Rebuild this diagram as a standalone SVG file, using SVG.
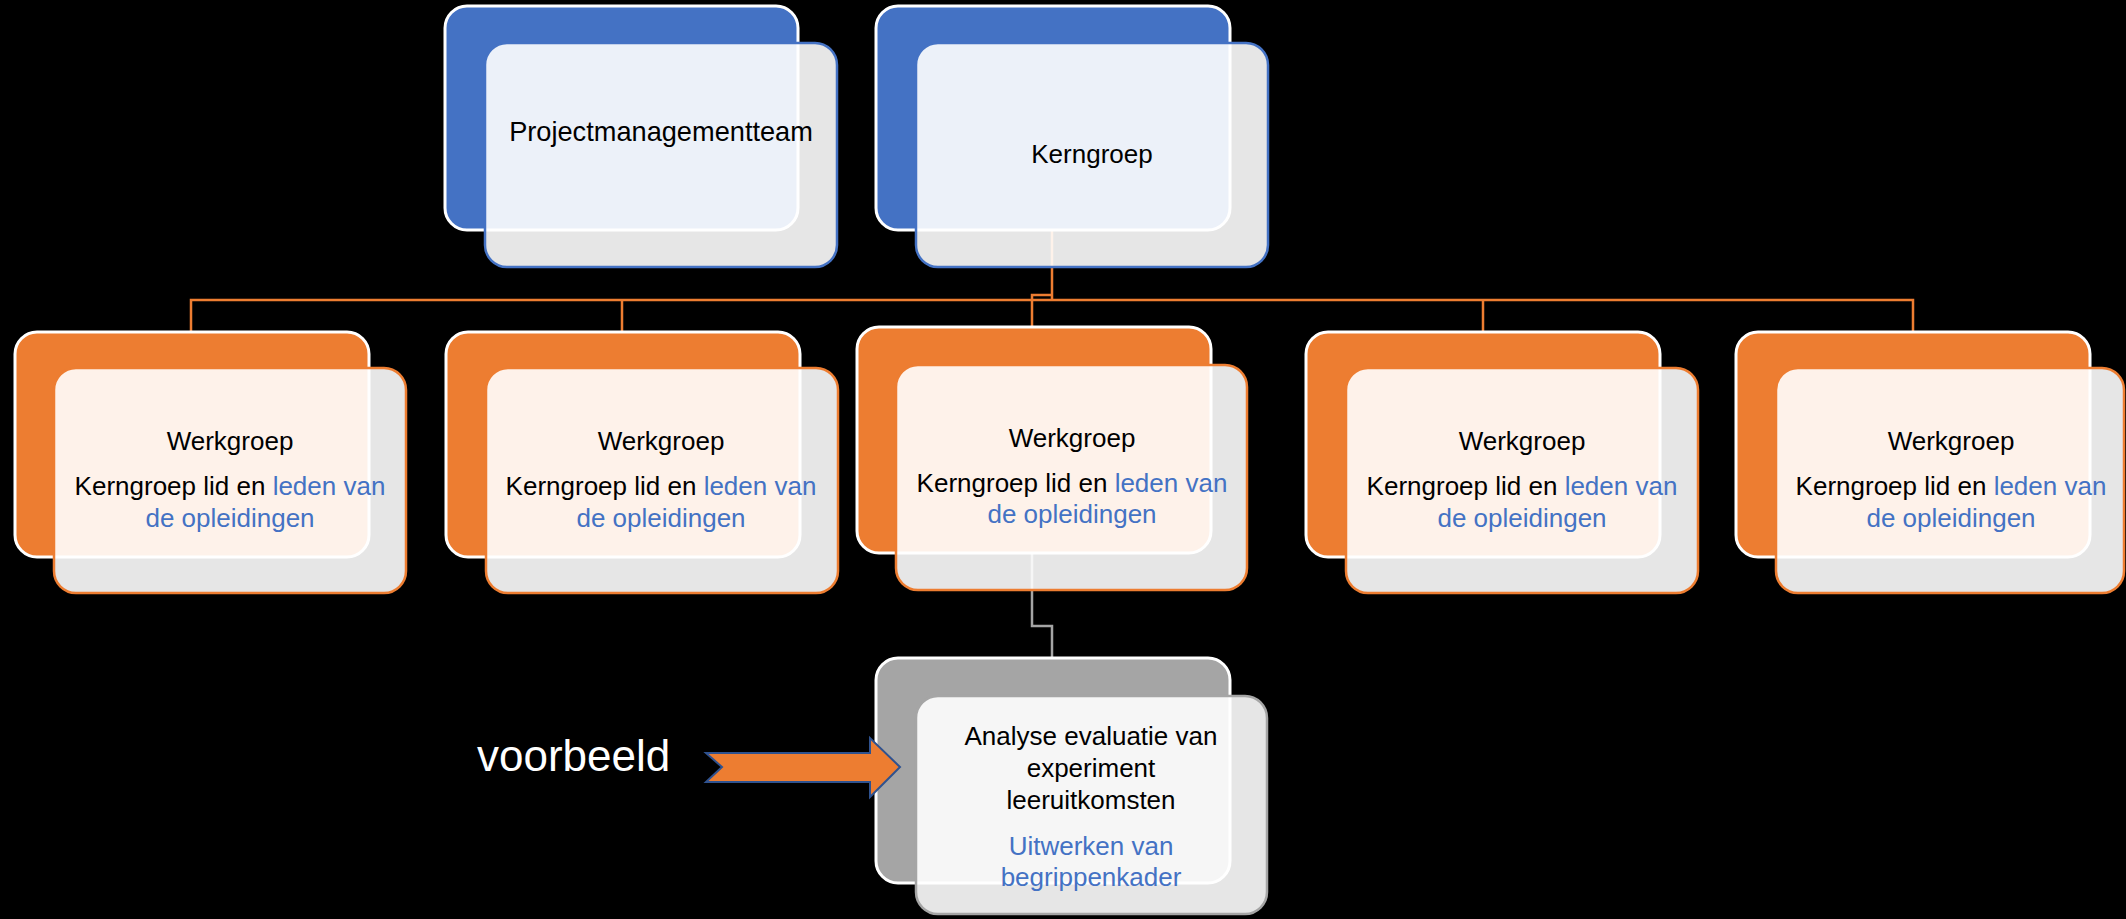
<svg xmlns="http://www.w3.org/2000/svg" width="2126" height="919" viewBox="0 0 2126 919">
<style>
.bg{fill:#000}
.back{stroke:#fff;stroke-width:3}
.bb{fill:#4472C4}
.bo{fill:#ED7D31}
.bg2{fill:#A5A5A5}
.front{fill:#fff;fill-opacity:0.9;stroke-width:2.5}
.fb{stroke:#4472C4}
.fo{stroke:#ED7D31}
.fg{stroke:#A5A5A5}
.t{font-family:"Liberation Sans",Arial,sans-serif;font-size:26px;fill:#000;text-anchor:middle}
.blue{fill:#4472C4}
.co{fill:none;stroke:#ED7D31;stroke-width:2.5}
.cg{fill:none;stroke:#A5A5A5;stroke-width:2.5}
</style>
<rect class="bg" x="0" y="0" width="2126" height="919"/>
<g id="connectors">
<path class="co" d="M1052,230 V300"/>
<path class="co" d="M191,331 V300 H1913 V331"/>
<path class="co" d="M622,300 V331"/>
<path class="co" d="M1483,300 V331"/>
<path class="co" d="M1052,295 H1032 V327"/>
<path class="cg" d="M1032,553 V626 H1052 V658"/>
</g>
<g id="pm">
<rect class="back bb" x="445" y="6" width="353" height="224" rx="22"/>
<rect class="front fb" x="485" y="43" width="352" height="224" rx="22"/>
<text class="t" x="661" y="141" style="font-size:27.2px">Projectmanagementteam</text>
</g>
<g id="kerngroep">
<rect class="back bb" x="876" y="6" width="354" height="224" rx="22"/>
<rect class="front fb" x="916" y="43" width="352" height="224" rx="22"/>
<text class="t" x="1092" y="163">Kerngroep</text>
</g>
<g id="werkgroep1">
<rect class="back bo" x="15" y="332" width="354" height="225" rx="22"/>
<rect class="front fo" x="54" y="368" width="352" height="225" rx="22"/>
<text class="t" x="230" y="450">Werkgroep</text>
<text class="t" x="230" y="495">Kerngroep lid en <tspan class="blue">leden van</tspan></text>
<text class="t blue" x="230" y="527">de opleidingen</text>
</g>
<g id="werkgroep2">
<rect class="back bo" x="446" y="332" width="354" height="225" rx="22"/>
<rect class="front fo" x="486" y="368" width="352" height="225" rx="22"/>
<text class="t" x="661" y="450">Werkgroep</text>
<text class="t" x="661" y="495">Kerngroep lid en <tspan class="blue">leden van</tspan></text>
<text class="t blue" x="661" y="527">de opleidingen</text>
</g>
<g id="werkgroep3">
<rect class="back bo" x="857" y="327" width="354" height="226" rx="22"/>
<rect class="front fo" x="896" y="365" width="351" height="225" rx="22"/>
<text class="t" x="1072" y="447">Werkgroep</text>
<text class="t" x="1072" y="492">Kerngroep lid en <tspan class="blue">leden van</tspan></text>
<text class="t blue" x="1072" y="523">de opleidingen</text>
</g>
<g id="werkgroep4">
<rect class="back bo" x="1306" y="332" width="354" height="225" rx="22"/>
<rect class="front fo" x="1346" y="368" width="352" height="225" rx="22"/>
<text class="t" x="1522" y="450">Werkgroep</text>
<text class="t" x="1522" y="495">Kerngroep lid en <tspan class="blue">leden van</tspan></text>
<text class="t blue" x="1522" y="527">de opleidingen</text>
</g>
<g id="werkgroep5">
<rect class="back bo" x="1736" y="332" width="354" height="225" rx="22"/>
<rect class="front fo" x="1776" y="368" width="348" height="225" rx="22"/>
<text class="t" x="1951" y="450">Werkgroep</text>
<text class="t" x="1951" y="495">Kerngroep lid en <tspan class="blue">leden van</tspan></text>
<text class="t blue" x="1951" y="527">de opleidingen</text>
</g>
<g id="analyse">
<rect class="back bg2" x="876" y="658" width="354" height="225" rx="22"/>
<rect class="front fg" x="916" y="696" width="351" height="218" rx="22"/>
<text class="t" x="1091" y="745">Analyse evaluatie van</text>
<text class="t" x="1091" y="777">experiment</text>
<text class="t" x="1091" y="809">leeruitkomsten</text>
<text class="t blue" x="1091" y="855">Uitwerken van</text>
<text class="t blue" x="1091" y="886">begrippenkader</text>
</g>
<g id="voorbeeld">
<text x="477" y="771" style="font-family:'Liberation Sans',Arial,sans-serif;font-size:44px;fill:#fff">voorbeeld</text>
<polygon points="706,753 870,753 870,738 900,767 870,797 870,782 706,782 722,767" fill="#ED7D31" stroke="#2F528F" stroke-width="2"/>
</g>
</svg>
